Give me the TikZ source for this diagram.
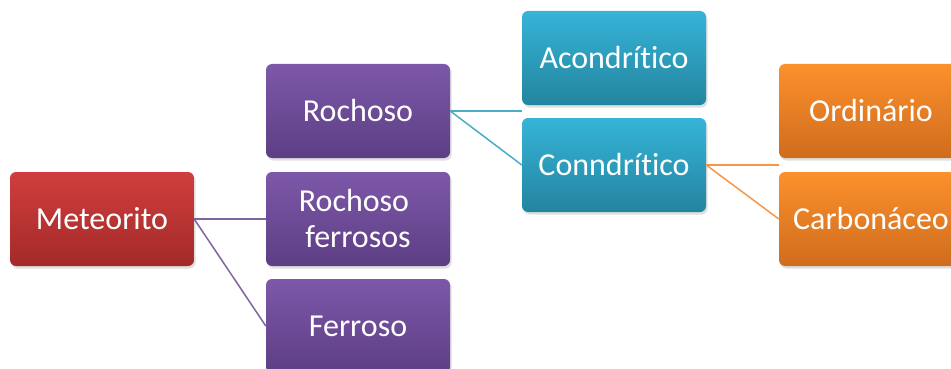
\documentclass[tikz,border=0pt]{standalone}
\usepackage{fontspec}
\setmainfont[RawFeature={-liga;-clig;-calt;-dlig}]{Carlito}
\usetikzlibrary{shadows}
\definecolor{redtop}{HTML}{D03E3D}
\definecolor{redbot}{HTML}{A32A29}
\definecolor{purtop}{HTML}{7D58A9}
\definecolor{purbot}{HTML}{5D3E84}
\definecolor{teatop}{HTML}{36B4D8}
\definecolor{teabot}{HTML}{23849F}
\definecolor{oratop}{HTML}{FC902C}
\definecolor{orabot}{HTML}{CF6C1D}
\definecolor{purline}{HTML}{8064A2}
\definecolor{tealine}{HTML}{4BACC6}
\definecolor{oraline}{HTML}{F79646}
\tikzset{
  box/.style={rounded corners=6pt, minimum width=184pt, minimum height=94pt,
    inner sep=0pt, text=white, align=center,
    font=\fontsize{32}{36}\selectfont,
    drop shadow={opacity=0.25, shadow xshift=1.5pt, shadow yshift=-2.5pt}},
  redbox/.style={box, top color=redtop, bottom color=redbot},
  purbox/.style={box, top color=purtop, bottom color=purbot},
  teabox/.style={box, top color=teatop, bottom color=teabot},
  orabox/.style={box, top color=oratop, bottom color=orabot},
  link/.style={line width=1.5pt}
}
\begin{document}
\begin{tikzpicture}[x=1pt,y=-1pt]
\useasboundingbox (0,0) rectangle (951,369);
% level 0
\node[redbox] (met) at (102,219) {Meteorito};
% level 1
\node[purbox] (roc) at (358,111) {Rochoso};
\node[purbox] (rf)  at (358,219) {Rochoso\kern8pt\\ferrosos};
\node[purbox] (fer) at (358,326) {Ferroso};
% level 2
\node[teabox] (aco) at (614,58)  {Acondrítico};
\node[teabox] (con) at (614,165) {Conndrítico};
% level 3
\node[orabox] (ord) at (871,111) {Ordinário};
\node[orabox] (car) at (871,219) {Carbonáceo};
% free ends between stacked boxes
\coordinate (acoend) at (522,111);
\coordinate (ordend) at (779,165);
% connectors
\draw[link, purline] (met.east) -- (rf.west);
\draw[link, purline] (met.east) -- (fer.west);
\draw[link, tealine] (roc.east) -- (acoend);
\draw[link, tealine] (roc.east) -- (con.west);
\draw[link, oraline] (con.east) -- (ordend);
\draw[link, oraline] (con.east) -- (car.west);
\end{tikzpicture}
\end{document}
